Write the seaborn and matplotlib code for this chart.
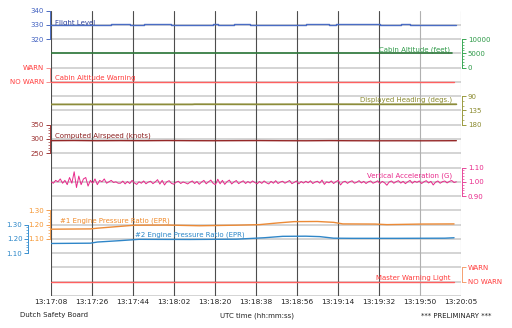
import numpy as np
import pandas as pd
import matplotlib
matplotlib.use("Agg")
import matplotlib.pyplot as plt
import seaborn as sns
from matplotlib.ticker import FixedLocator

sns.set_style("white")
plt.rcParams["font.family"] = ["DejaVu Sans"]

# ---------------- data ----------------
time_labels = ["13:17:08", "13:17:26", "13:17:44", "13:18:02", "13:18:20", "13:18:38",
               "13:18:56", "13:19:14", "13:19:32", "13:19:50", "13:20:05"]
t_end = 177  # seconds from 13:17:08 to 13:20:05

# Flight level (FL)
fl_t = [0, 26, 34, 40, 52, 70, 72, 79, 86, 110, 120, 123, 142, 151, 155, 175]
fl_v = [330.0, 330.3, 330.0, 330.3, 330.0, 330.3, 330.0, 330.3, 330.0, 330.3, 330.0,
        330.3, 330.0, 330.3, 330.0, 330.0]

# Cabin altitude (feet)
cab_t = [0, 40, 80, 120, 160, 173]
cab_v = [4950, 4950, 4950, 4950, 4950, 4950]

# Cabin altitude warning (0 = NO WARN, 1 = WARN)
caw_t = [0, 174]
caw_v = [0, 0]

# Displayed heading (deg)
hdg_t = [0, 30, 61, 62, 90, 120, 150, 175]
hdg_v = [116.0, 116.0, 116.0, 115.5, 115.8, 115.5, 115.8, 115.6]

# Computed airspeed (knots)
cas_t = [0, 10, 20, 30, 40, 50, 60, 70, 80, 90, 100, 110, 120, 130, 140, 150, 160, 170, 175]
cas_v = [294.0, 294.5, 293.8, 294.2, 293.9, 294.4, 294.0, 293.8, 294.1, 294.3, 293.9, 293.7,
         294.2, 293.8, 293.6, 293.7, 293.6, 293.8, 294.0]

# Vertical acceleration (G), 1 s samples
acc_t = list(range(176))
acc_v = [1.00, 0.99, 1.01, 1.00, 1.02, 0.99, 1.01, 0.98, 1.03, 0.99,
         1.07, 0.96, 1.04, 0.98, 1.02, 1.03, 0.97, 1.01, 0.99, 1.02,
         0.98, 1.01, 1.00, 1.02, 0.99, 1.00, 1.01, 0.995, 1.00, 0.99,
         0.990, 1.005, 0.985, 1.002, 0.988, 1.010, 0.992, 0.982, 1.000, 0.990,
         1.006, 0.986, 0.998, 1.004, 0.987, 0.999, 1.015, 0.984, 1.010, 0.978,
         1.000, 1.008, 0.989, 0.983, 0.997, 1.004, 0.988, 0.999, 0.993, 0.985,
         0.997, 1.006, 0.988, 1.002, 0.983, 0.998, 1.010, 0.986, 1.000, 1.012,
         0.989, 0.980, 1.018, 0.986, 1.010, 0.982, 1.001, 1.012, 0.985, 0.999,
         1.009, 0.987, 0.998, 1.007, 0.988, 1.002, 0.991, 1.006, 0.995, 0.986,
         1.002, 0.989, 1.006, 0.993, 0.985, 1.003, 0.990, 1.008, 0.988, 0.998,
         1.004, 0.990, 1.000, 1.009, 0.987, 0.996, 1.006, 0.986, 1.002, 0.991,
         1.004, 0.993, 1.007, 0.988, 0.998, 1.004, 0.991, 1.012, 0.982, 1.000,
         0.993, 1.006, 0.988, 1.001, 1.010, 0.978, 0.998, 1.004, 0.989, 1.001,
         1.007, 0.990, 0.997, 1.008, 0.992, 1.003, 0.988, 1.000, 1.006, 0.990,
         0.997, 1.007, 0.988, 1.003, 0.993, 0.976, 0.999, 1.006, 0.990, 1.001,
         1.008, 0.991, 1.003, 0.987, 1.000, 1.010, 0.990, 1.004, 0.996, 1.006,
         0.988, 1.000, 1.008, 0.992, 1.003, 0.978, 0.997, 1.006, 0.990, 1.001,
         1.006, 0.992, 1.003, 1.009, 0.995, 1.000]

# Engine pressure ratios
epr1_t = [0, 17, 20, 30, 36, 50, 64, 80, 90, 98, 105, 115, 122, 126, 140, 145, 160, 174]
epr1_v = [1.168, 1.170, 1.175, 1.188, 1.196, 1.197, 1.192, 1.196, 1.200, 1.212, 1.221,
          1.222, 1.216, 1.205, 1.204, 1.200, 1.204, 1.205]
epr2_t = [0, 17, 20, 30, 38, 60, 80, 92, 100, 110, 116, 122, 130, 150, 170, 174]
epr2_v = [1.168, 1.170, 1.178, 1.188, 1.197, 1.196, 1.198, 1.208, 1.218, 1.219, 1.216,
          1.205, 1.204, 1.204, 1.205, 1.208]

# Master warning light (0 = NO WARN, 1 = WARN)
mwl_t = [0, 174]
mwl_v = [0, 0]

# ---------------- figure ----------------
fig = plt.figure(figsize=(5.12, 3.28), dpi=100)
ax = fig.add_axes([51 / 512, 32 / 328, 410 / 512, 285.5 / 328])
ax.set_xlim(0, t_end)
ax.set_ylim(20, 0)
for s in ax.spines.values():
    s.set_visible(False)
ax.set_yticks(range(1, 21))
ax.yaxis.grid(True, color="#cdcdcd", lw=1.2)
ax.set_axisbelow(True)

xt = np.linspace(0, t_end, len(time_labels))
ax.set_xticks(xt)
ax.set_xticklabels(time_labels)
ax.tick_params(axis="x", bottom=False, length=0, pad=2.5, labelsize=5.3, labelcolor="#222222")
for i, x in enumerate(xt):
    ax.axvline(x, color="#4d4d4d" if i < 9 else "#b0b0b0", lw=0.8, zorder=1)


def track(side, ylim, ticks, labels, minor, color, labelcolor, bounds, offset=1.0):
    tw = ax.twinx()
    for s in tw.spines.values():
        s.set_visible(False)
    sp = tw.spines[side]
    sp.set_visible(True)
    sp.set_position(("outward", offset))
    sp.set_bounds(*bounds)
    sp.set_color(color)
    sp.set_linewidth(0.7)
    tw.yaxis.set_ticks_position(side)
    tw.set_yticks(ticks)
    tw.set_yticklabels(labels)
    tw.yaxis.set_minor_locator(FixedLocator(minor))
    tw.tick_params(axis="y", which="major", length=3, width=0.7, color=color,
                   labelcolor=labelcolor, labelsize=5, pad=1)
    tw.tick_params(axis="y", which="minor", length=1.5, width=0.5, color=color)
    tw.set_ylim(*ylim)
    return tw


def draw(tw, t, v, color, lw=1.0, **kw):
    df = pd.DataFrame({"t": t, "v": v})
    ylim = tw.get_ylim()
    sns.lineplot(data=df, x="t", y="v", ax=tw, color=color, lw=lw, legend=False,
                 estimator=None, sort=False, **kw)
    tw.set_ylim(*ylim)
    tw.set_xlabel("")
    tw.set_ylabel("")


# Flight level: row0=340, row2=320
a = track("left", (140, 340), [320, 330, 340], ["320", "330", "340"], [],
          "#4a6cc4", "#3f5fc0", (320, 340))
draw(a, fl_t, fl_v, "#4a6cc4", lw=1.0, drawstyle="steps-post")

# Cabin altitude: row2=10000, row4=0
a = track("right", (-80000, 20000), [0, 5000, 10000], ["0", "5000", "10000"],
          list(range(1000, 10000, 1000)), "#3aa855", "#2e9a48", (0, 10000))
draw(a, cab_t, cab_v, "#2f7a3c", lw=1.2)

# Cabin altitude warning: row4=WARN(1), row5=NO WARN(0)
a = track("left", (-15, 5), [0, 1], ["NO WARN", "WARN"], [],
          "#f59090", "#ff3b3b", (0, 1))
draw(a, caw_t, caw_v, "#ff6060", lw=1.0)

# Displayed heading: row6=90, row8=180 (increasing downward)
a = track("right", (720, -180), [90, 135, 180], ["90", "135", "180"],
          [105, 120, 150, 165], "#9a9a40", "#8a8a2e", (90, 180))
draw(a, hdg_t, hdg_v, "#8c8c3a", lw=1.3)

# Computed airspeed: row8=350, row10=250
a = track("left", (-250, 750), [250, 300, 350], ["250", "300", "350"],
          list(range(260, 350, 10)), "#a03a3a", "#9b2d2d", (250, 350))
draw(a, cas_t, cas_v, "#952828", lw=1.0)

# Vertical acceleration: row11=1.10, row13=0.90
a = track("right", (0.2, 2.2), [0.9, 1.0, 1.1], ["0.90", "1.00", "1.10"],
          [0.92, 0.94, 0.96, 0.98, 1.02, 1.04, 1.06, 1.08], "#e8489a", "#e8288a", (0.9, 1.1))
draw(a, acc_t, acc_v, "#e8288a", lw=0.7)

# #1 EPR: row14=1.30, row16=1.10
a = track("left", (0.7, 2.7), [1.1, 1.2, 1.3], ["1.10", "1.20", "1.30"],
          [1.12, 1.14, 1.16, 1.18, 1.22, 1.24, 1.26, 1.28], "#f5a050", "#f5952f", (1.1, 1.3))
draw(a, epr1_t, epr1_v, "#ec8a36", lw=1.0)

# #2 EPR: row15=1.30, row17=1.10
a = track("left", (0.8, 2.8), [1.1, 1.2, 1.3], ["1.10", "1.20", "1.30"],
          [1.12, 1.14, 1.16, 1.18, 1.22, 1.24, 1.26, 1.28], "#3a90d0", "#2a86c8", (1.1, 1.3),
          offset=16.6)
draw(a, epr2_t, epr2_v, "#2f86c8", lw=1.0)

# Master warning light: row18=WARN(1), row19=NO WARN(0)
a = track("right", (-1, 19), [0, 1], ["NO WARN", "WARN"], [],
          "#f5a070", "#ff3b3b", (0, 1))
draw(a, mwl_t, mwl_v, "#ff6060", lw=1.0)

# twinx() re-enables ticks on the base axes; switch them off again
ax.tick_params(axis="y", which="both", left=False, right=False,
               labelleft=False, labelright=False)


# ---------------- labels ----------------
def px_t(px):
    return (px - 51) / 410 * t_end


def px_row(py):
    return (py - 10.5) / 14.275


fs = 5
ax.text(px_t(55), px_row(22.5), "Flight Level", color="#2b3f9a", fontsize=fs, va="center", ha="left")
ax.text(px_t(450), px_row(50), "Cabin Altitude (feet)", color="#2e9a48", fontsize=fs, va="center", ha="right")
ax.text(px_t(55), px_row(78), "Cabin Altitude Warning", color="#ff3b3b", fontsize=fs, va="center", ha="left")
ax.text(px_t(452.5), px_row(99.5), "Displayed Heading (degs.)", color="#8a8a2e", fontsize=fs, va="center", ha="right")
ax.text(px_t(55), px_row(136), "Computed Airspeed (knots)", color="#8b2020", fontsize=fs, va="center", ha="left")
ax.text(px_t(452), px_row(176), "Vertical Acceleration (G)", color="#e8288a", fontsize=fs, va="center", ha="right")
ax.text(px_t(60), px_row(221), "#1 Engine Pressure Ratio (EPR)", color="#f08a2a", fontsize=fs, va="center", ha="left")
ax.text(px_t(135), px_row(235), "#2 Engine Pressure Ratio (EPR)", color="#2a86c8", fontsize=fs, va="center", ha="left")
ax.text(px_t(450), px_row(278), "Master Warning Light", color="#ff3b3b", fontsize=fs, va="center", ha="right")

fig.text(20 / 512, 1 - 315 / 328, "Dutch Safety Board", fontsize=5, color="#222222", va="center", ha="left")
fig.text(257 / 512, 1 - 316 / 328, "UTC time (hh:mm:ss)", fontsize=5, color="#222222", va="center", ha="center")
fig.text(456 / 512, 1 - 316 / 328, "*** PRELIMINARY ***", fontsize=5, color="#222222", va="center", ha="center")

fig.savefig("out.png", dpi=100)
